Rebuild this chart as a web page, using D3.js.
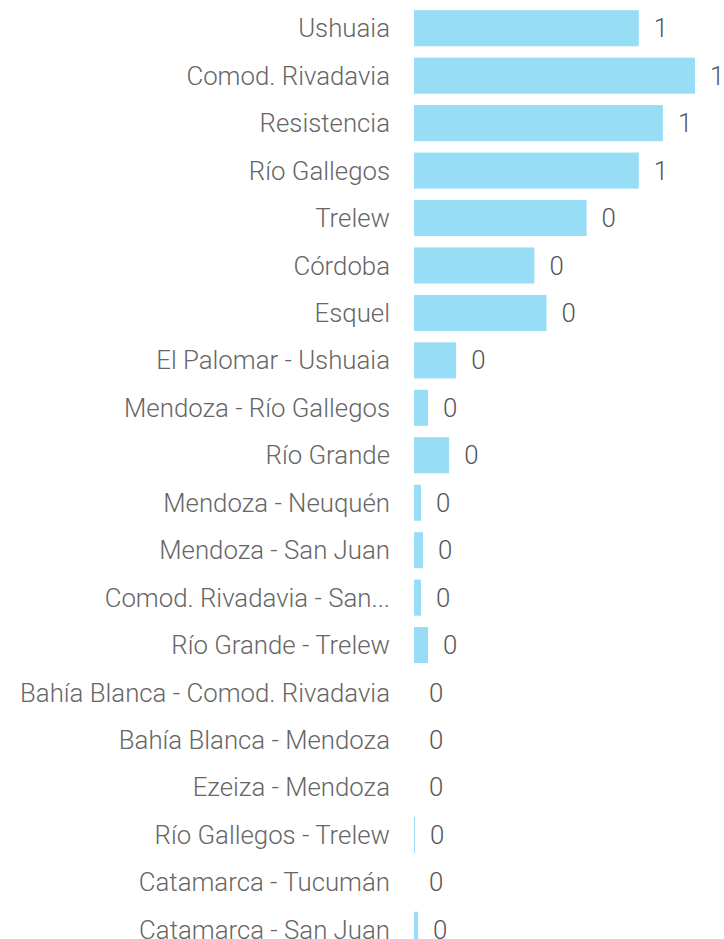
<!DOCTYPE html>
<html>
<head>
<meta charset="utf-8">
<script src="https://cdn.jsdelivr.net/npm/d3@7"></script>
<style>
  body { margin: 0; background: #fff; }
  text { font-family: Roboto, sans-serif; font-weight: 300; }
</style>
</head>
<body>
<div id="chart"></div>
<script>
  // routes, top to bottom
  var routes = [
    'Ushuaia', 'Comod. Rivadavia', 'Resistencia', 'Río Gallegos', 'Trelew',
    'Córdoba', 'Esquel', 'El Palomar - Ushuaia', 'Mendoza - Río Gallegos',
    'Río Grande', 'Mendoza - Neuquén', 'Mendoza - San Juan',
    'Comod. Rivadavia - San...', 'Río Grande - Trelew',
    'Bahía Blanca - Comod. Rivadavia', 'Bahía Blanca - Mendoza',
    'Ezeiza - Mendoza', 'Río Gallegos - Trelew', 'Catamarca - Tucumán',
    'Catamarca - San Juan'
  ];
  var values = [
    0.56, 0.70, 0.62, 0.56, 0.43,
    0.30, 0.33, 0.105, 0.035,
    0.0875, 0.0175, 0.0225,
    0.0175, 0.035,
    0, 0,
    0, 0.0025, 0,
    0.01
  ];

  var width = 724, height = 939;
  var x0 = 414, barMax = 281;

  var data = routes.map(function(r, i) { return { name: r, value: values[i] }; });

  var svg = d3.select('#chart').append('svg')
    .attr('width', width).attr('height', height);

  var x = d3.scaleLinear()
    .domain([0, d3.max(values)])
    .range([x0, x0 + barMax]);

  var y = d3.scaleBand()
    .domain(routes)
    .range([4.5, 4.5 + 47.45 * routes.length])
    .paddingInner(0.24)
    .paddingOuter(0.12);

  var row = svg.selectAll('g.row').data(data).enter().append('g')
    .attr('class', 'row');

  row.append('rect')
    .attr('x', x(0))
    .attr('y', function(d) { return y(d.name); })
    .attr('width', function(d) { return x(d.value) - x(0); })
    .attr('height', y.bandwidth())
    .attr('fill', '#97ddf6');

  row.append('text')
    .attr('x', x0 - 24)
    .attr('y', function(d) { return y(d.name) + y.bandwidth() / 2; })
    .attr('dy', '0.35em')
    .attr('text-anchor', 'end')
    .attr('font-size', 25.8)
    .attr('fill', '#666')
    .text(function(d) { return d.name; });

  row.append('text')
    .attr('x', function(d) { return x(d.value) + 15; })
    .attr('y', function(d) { return y(d.name) + y.bandwidth() / 2; })
    .attr('dy', '0.35em')
    .attr('font-size', 25.8)
    .attr('fill', '#555')
    .text(function(d) { return d3.format('.0f')(d.value); });
</script>
</body>
</html>
